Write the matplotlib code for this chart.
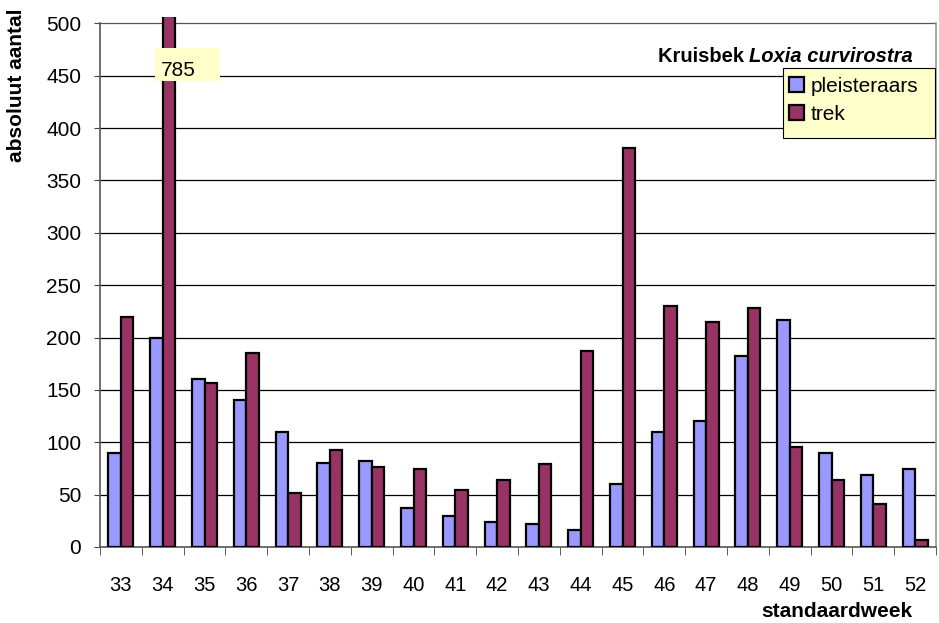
import matplotlib
matplotlib.use("Agg")
import matplotlib.pyplot as plt
from matplotlib.patches import Rectangle
import numpy as np

weeks = ["33", "34", "35", "36", "37", "38", "39", "40", "41", "42",
         "43", "44", "45", "46", "47", "48", "49", "50", "51", "52"]
pleisteraars = [90, 200, 160, 140, 110, 80, 82, 37, 30, 24,
                22, 16, 60, 110, 120, 182, 217, 90, 69, 74]
trek = [220, 785, 157, 185, 52, 93, 76, 74, 54, 64,
        79, 187, 381, 230, 215, 228, 95, 64, 41, 7]
yticks = list(range(0, 501, 50))

plt.rcParams['font.family'] = ['Liberation Sans', 'DejaVu Sans']

W, H = 939, 623
fig = plt.figure(figsize=(W / 100, H / 100), dpi=100)
ax = fig.add_axes([100 / W, 0.122, 836 / W, 0.9727 - 0.122])

x = np.arange(len(weeks))
w = 0.3
ax.bar(x - w / 2, pleisteraars, width=w, color='#9999FF', edgecolor='black',
       linewidth=1.6, label='pleisteraars', zorder=3)
ax.bar(x + w / 2, trek, width=w, color='#993366', edgecolor='black',
       linewidth=1.6, label='trek', zorder=3)

ax.set_xlim(-0.5, len(weeks) - 0.5)
ax.set_ylim(0, 506)
ax.set_yticks(yticks)
ax.set_yticklabels([str(v) for v in yticks], fontsize=15)
for v in yticks[1:]:
    ax.axhline(v, color='black' if v < 500 else '#555555', linewidth=0.9, zorder=1)

ax.set_xticks(x)
ax.set_xticklabels(weeks, fontsize=14.5)
ax.set_xticks(np.arange(-0.5, len(weeks)), minor=True)
ax.tick_params(axis='x', which='major', length=0, pad=21)
ax.tick_params(axis='x', which='minor', length=5.5, direction='out', color='#444444')
ax.tick_params(axis='y', length=4.5, direction='out', color='#444444', pad=9)

ax.spines['top'].set_visible(False)
ax.spines['left'].set_bounds(0, 500)
ax.spines['right'].set_bounds(0, 500)
ax.spines['left'].set_color('#555555')
ax.spines['bottom'].set_color('#555555')
ax.spines['right'].set_color('#999999')
for s in ['left', 'bottom', 'right']:
    ax.spines[s].set_linewidth(1.2)

fig.text(17 / W, 1 - 85 / H, 'absoluut aantal', rotation=90, fontsize=15,
         fontweight='bold', ha='center', va='center')
fig.text(837 / W, 1 - 617 / H, 'standaardweek', fontsize=15,
         fontweight='bold', ha='center', va='baseline')

t2 = fig.text(913 / W, 1 - 62 / H, 'Loxia curvirostra', fontsize=14.5,
              fontweight='bold', fontstyle='italic', ha='right', va='baseline')
ax.annotate('Kruisbek ', xy=(0, 0), xycoords=t2, fontsize=14.5,
            fontweight='bold', ha='right', va='bottom')

fig.add_artist(Rectangle((155 / W, 1 - 81 / H), 65 / W, 33 / H,
                         transform=fig.transFigure, facecolor='#FFFFCC',
                         edgecolor='none', zorder=4))
fig.text(161 / W, 1 - 76 / H, '785', fontsize=15, ha='left', va='baseline',
         zorder=5)

# legend frame
fig.add_artist(Rectangle((783 / W, 1 - 138 / H), 152 / W, 70 / H,
                         transform=fig.transFigure, facecolor='#FFFFCC',
                         edgecolor='black', linewidth=0.8, zorder=5))
leg = fig.legend(loc='upper left', bbox_to_anchor=(789 / W, 1 - 77 / H),
                 fontsize=15, frameon=False,
                 handlelength=0.72, handleheight=0.72, handletextpad=0.3,
                 borderpad=0, labelspacing=0.43, borderaxespad=0)
leg.set_zorder(6)

fig.savefig('out.png', dpi=100)
